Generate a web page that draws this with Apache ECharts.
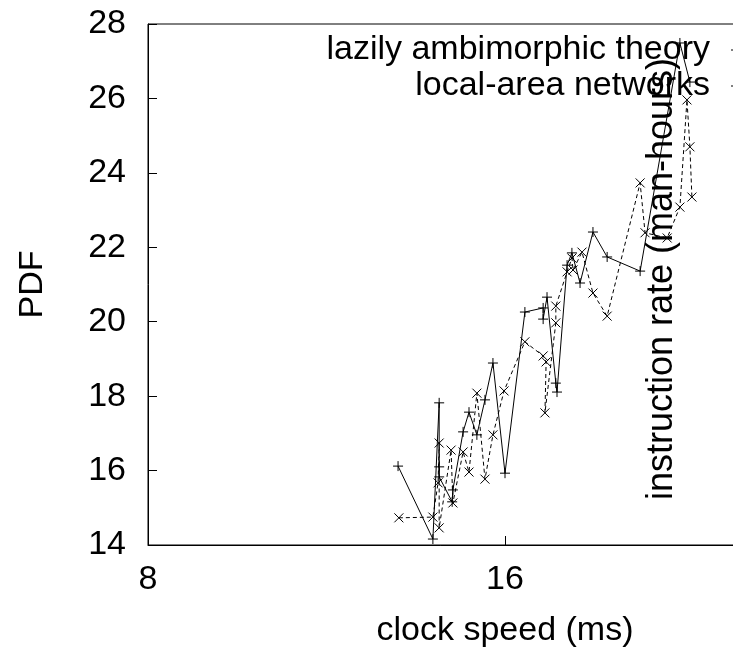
<!DOCTYPE html>
<html>
<head>
<meta charset="utf-8">
<script src="https://cdn.jsdelivr.net/npm/echarts@6/dist/echarts.min.js"></script>
<style>
  html, body { margin: 0; padding: 0; background: #fff; }
  #container { width: 733px; height: 648px; }
</style>
</head>
<body>
<div id="container"></div>
<script>
  // x = clock speed (ms), y = PDF, in drawing order
  let theoryX = [13.00, 13.91, 14.08, 14.08, 14.08, 14.44, 14.46, 14.75, 14.92, 15.15, 15.39, 15.63, 16.00,
    16.63, 17.23, 17.23, 17.36, 17.66, 17.70, 18.05, 18.22, 18.51, 18.98, 19.51, 20.80, 22.47, 22.91];
  let theoryY = [16.12, 14.16, 17.82, 16.10, 15.83, 15.16, 15.48, 17.04, 17.57, 16.96, 17.90, 18.89, 15.93,
    20.26, 20.37, 20.07, 20.66, 18.35, 18.11, 21.52, 21.85, 21.04, 22.41, 21.74, 21.36, 27.49, 26.44];

  let networksX = [13.02, 13.91, 14.05, 14.08, 14.08, 14.41, 14.46, 14.75, 14.92, 15.15, 15.39, 15.63, 15.97,
    16.63, 17.23, 17.33, 17.29, 17.66, 17.66, 18.05, 18.22, 18.26, 18.58, 18.98, 19.51, 20.80, 21.00,
    21.92, 22.47, 22.78, 22.91, 23.00];
  let networksY = [14.73, 14.75, 15.67, 16.74, 14.46, 16.55, 15.13, 16.50, 15.96, 18.08, 15.77, 16.96, 18.14,
    19.46, 19.08, 18.92, 17.55, 19.97, 20.42, 21.34, 21.71, 21.39, 21.87, 20.77, 20.15, 23.73, 22.39,
    22.25, 23.08, 25.96, 24.70, 23.35];

  let legendNames = ['lazily ambimorphic theory', 'local-area networks'];
  let yTicks = [14, 16, 18, 20, 22, 24, 26, 28];

  let font = 'Liberation Sans';
  let plusSymbol = 'path://M0,5L10,5M5,0L5,10';
  let crossSymbol = 'path://M0,0L10,10M10,0L0,10';

  function pairs(xs, ys) {
    let out = [];
    for (let i = 0; i < xs.length; i++) {
      out.push([xs[i], ys[i]]);
    }
    return out;
  }

  let myChart = echarts.init(document.getElementById('container'));
  let option = {
    animation: false,
    backgroundColor: '#fff',
    grid: {
      show: true,
      left: 148,
      top: 24,
      width: 714,   // right border falls outside the window
      height: 521,
      outerBoundsMode: 'none',
      containLabel: false,
      borderColor: '#000',
      borderWidth: 1
    },
    xAxis: {
      type: 'log',
      logBase: 2,
      min: 8,
      max: 32,
      name: 'clock speed (ms)',
      nameLocation: 'middle',
      nameGap: 69,
      nameTextStyle: { fontFamily: font, fontSize: 34, color: '#000' },
      axisLine: { lineStyle: { color: '#000', width: 1 } },
      axisTick: { inside: true, length: 9, lineStyle: { color: '#000' } },
      minorTick: { show: false },
      splitLine: { show: false },
      axisLabel: { fontFamily: font, fontSize: 34, color: '#000', margin: 18 }
    },
    yAxis: {
      type: 'value',
      min: 14,
      max: 28,
      interval: 2,
      name: 'PDF',
      nameLocation: 'middle',
      nameGap: 98,
      nameRotate: 90,
      nameTextStyle: { fontFamily: font, fontSize: 34, color: '#000' },
      axisLine: { show: true, lineStyle: { color: '#000', width: 1 } },
      axisTick: { show: true, inside: true, length: 9, lineStyle: { color: '#000' } },
      splitLine: { show: false },
      axisLabel: {
        fontFamily: font, fontSize: 34, color: '#000', margin: 22,
        formatter: function (v) { return yTicks.indexOf(v) >= 0 ? String(v) : ''; }
      }
    },
    graphic: [
      {
        type: 'text',
        x: 662, y: 279,
        rotation: Math.PI / 2,
        style: {
          text: 'instruction rate (man-hours)',
          font: '36px "Liberation Sans"',
          fill: '#000',
          textAlign: 'center',
          textVerticalAlign: 'middle'
        }
      },
      {
        type: 'text', x: 710, y: 50,
        style: { text: legendNames[0], font: '34px "Liberation Sans"', fill: '#000', textAlign: 'right', textVerticalAlign: 'middle' }
      },
      {
        type: 'text', x: 710, y: 86,
        style: { text: legendNames[1], font: '34px "Liberation Sans"', fill: '#000', textAlign: 'right', textVerticalAlign: 'middle' }
      },
      {
        type: 'line', shape: { x1: 731, y1: 50, x2: 800, y2: 50 },
        style: { stroke: '#000', lineWidth: 1 }
      },
      {
        type: 'line', shape: { x1: 731, y1: 86, x2: 800, y2: 86 },
        style: { stroke: '#000', lineWidth: 1, lineDash: [4, 3] }
      }
    ],
    series: [
      {
        name: legendNames[0],
        type: 'line',
        data: pairs(theoryX, theoryY),
        symbol: plusSymbol,
        symbolSize: 10,
        showAllSymbol: true,
        lineStyle: { color: '#000', width: 1 },
        itemStyle: { color: '#000', borderColor: '#000', borderWidth: 1 }
      },
      {
        name: legendNames[1],
        type: 'line',
        data: pairs(networksX, networksY),
        symbol: crossSymbol,
        symbolSize: 9,
        showAllSymbol: true,
        lineStyle: { color: '#000', width: 1, type: [4, 3] },
        itemStyle: { color: '#000', borderColor: '#000', borderWidth: 1 }
      }
    ]
  };
  if (option && typeof option === 'object') {
    myChart.setOption(option, true);
  }
</script>
</body>
</html>
